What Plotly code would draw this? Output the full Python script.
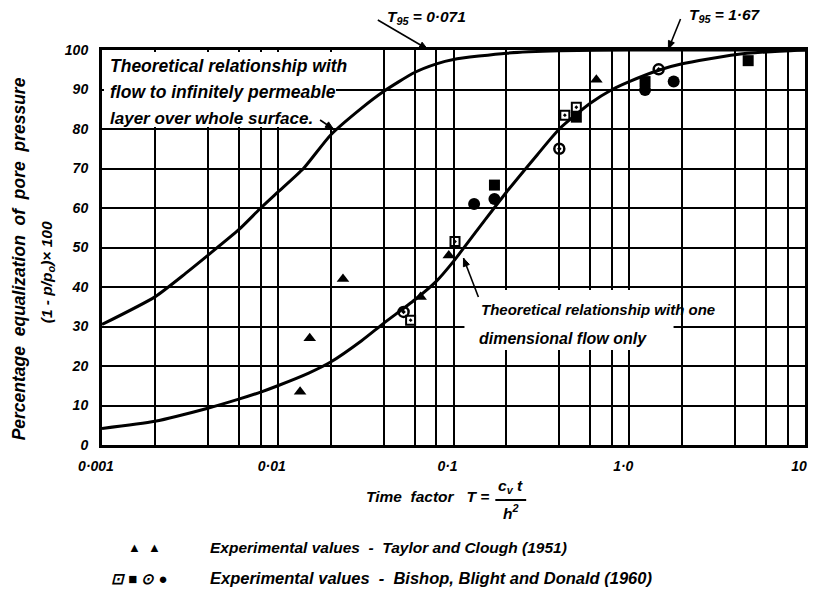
import math
import plotly.graph_objects as go

# ---------------- data ----------------
# Theoretical curve: flow to infinitely permeable layer over whole surface
T_perm = [0.001, 0.002, 0.003, 0.004, 0.006, 0.008, 0.01, 0.014, 0.02, 0.03,
          0.04, 0.06, 0.08, 0.1, 0.2, 0.4, 1.0, 10]
U_perm = [30.5, 37.5, 43.5, 48, 54.5, 60, 64, 70, 78.5, 85.3,
          89.5, 94.3, 96.5, 97.6, 99.2, 99.8, 100, 100]

# Theoretical curve: one dimensional flow only
T_1d = [0.001, 0.002, 0.004, 0.006, 0.008, 0.01, 0.015, 0.02, 0.03, 0.04,
        0.06, 0.08, 0.1, 0.15, 0.2, 0.3, 0.4, 0.6, 0.8, 1.0,
        1.5, 2.0, 4.0, 6.0, 10]
U_1d = [4.2, 6, 9.3, 11.6, 13.4, 15, 18.2, 21, 26.4, 30.8,
        36.7, 41.5, 46.5, 56.8, 64, 73.5, 80, 86.5, 90, 92,
        95, 96.5, 98.8, 99.5, 100]

# Experimental values - Taylor and Clough (1951)
T_taylor = [0.0134, 0.0152, 0.0235, 0.065, 0.094, 0.65]
U_taylor = [13.5, 27, 42, 37.5, 48, 92.5]

# Experimental values - Bishop, Blight and Donald (1960)
T_open_sq = [0.057, 0.102, 0.43, 0.50]
U_open_sq = [31.6, 51.5, 83.5, 85.5]
T_fill_sq = [0.171, 0.50, 1.23, 4.75]
U_fill_sq = [65.8, 83, 92, 97.3]
T_open_ci = [0.052, 0.40, 1.47]
U_open_ci = [33.7, 75, 95.1]
T_fill_ci = [0.131, 0.171, 1.23, 1.79]
U_fill_ci = [61, 62.3, 89.9, 92]

# axis ticks / grid
x_tickvals = [0.001, 0.01, 0.1, 1, 10]
x_ticktext = ["0·001", "0·01", "0·1", "1·0", "10"]
x_minor_vals = [0.002, 0.004, 0.006, 0.008,
                0.02, 0.04, 0.06, 0.08,
                0.2, 0.4, 0.6, 0.8,
                2, 4, 6, 8]
y_tickvals = [0, 10, 20, 30, 40, 50, 60, 70, 80, 90, 100]
y_ticktext = [str(v) for v in y_tickvals]

T95_perm = 0.071
T95_1d = 1.67

# ---------------- layout helpers ----------------
W, H = 815, 596
ML, MR, MT, MB = 102, 7, 50, 151
PW = W - ML - MR
PH = H - MT - MB
BOTTOM = H - MB


def px(x):
    return (x - ML) / PW


def py(y):
    return (BOTTOM - y) / PH


def tx(T):
    # pixel x of a time factor on the log axis (used only for callout arrows)
    return ML + PW * (math.log10(T) + 3) / 4


def uy(U):
    return BOTTOM - PH * U / 100


FONT = "Liberation Sans, Arial, sans-serif"


def fnt(size, weight="bold"):
    return dict(family=FONT, size=size, color="black", style="italic", weight=weight)


fig = go.Figure()

# white panels behind the in-plot captions (hide the grid there)
fig.add_shape(type="rect", xref="paper", yref="paper", x0=px(104), x1=px(337),
              y0=py(127), y1=py(52), fillcolor="white", line_width=0, layer="above")
fig.add_shape(type="rect", xref="paper", yref="paper", x0=px(466), x1=px(676),
              y0=py(350), y1=py(290), fillcolor="white", line_width=0, layer="above")


def arrow(x0, y0, x1, y1, head=8, half=3.2):
    """Leader line from (x0,y0) to (x1,y1) in pixels with a filled head."""
    fig.add_shape(type="line", xref="paper", yref="paper",
                  x0=px(x0), y0=py(y0), x1=px(x1), y1=py(y1),
                  line=dict(color="black", width=1.6), layer="above")
    d = math.hypot(x1 - x0, y1 - y0)
    ux, uy_ = (x1 - x0) / d, (y1 - y0) / d
    bx, by = x1 - ux * head, y1 - uy_ * head
    nx, ny = -uy_ * half, ux * half
    pts = [(x1, y1), (bx + nx, by + ny), (bx - nx, by - ny)]
    path = "M " + " L ".join(f"{px(a):.5f},{py(b):.5f}" for a, b in pts) + " Z"
    fig.add_shape(type="path", xref="paper", yref="paper", path=path,
                  fillcolor="black", line=dict(color="black", width=1), layer="above")


line_style = dict(color="black", width=3, shape="spline", smoothing=0.6)
fig.add_trace(go.Scatter(x=T_perm, y=U_perm, mode="lines", line=line_style,
                         showlegend=False, hoverinfo="skip"))
fig.add_trace(go.Scatter(x=T_1d, y=U_1d, mode="lines", line=line_style,
                         showlegend=False, hoverinfo="skip"))

fig.add_trace(go.Scatter(x=T_taylor, y=U_taylor, mode="markers", showlegend=False,
                         marker=dict(symbol="triangle-up", size=11, color="black")))
fig.add_trace(go.Scatter(x=T_open_sq, y=U_open_sq, mode="markers", showlegend=False,
                         marker=dict(symbol="square-open-dot", size=9, color="black",
                                     line=dict(width=2, color="black"))))
fig.add_trace(go.Scatter(x=T_fill_sq, y=U_fill_sq, mode="markers", showlegend=False,
                         marker=dict(symbol="square", size=11, color="black")))
fig.add_trace(go.Scatter(x=T_open_ci, y=U_open_ci, mode="markers", showlegend=False,
                         marker=dict(symbol="circle-open-dot", size=10, color="black",
                                     line=dict(width=2.5, color="black"))))
fig.add_trace(go.Scatter(x=T_fill_ci, y=U_fill_ci, mode="markers", showlegend=False,
                         marker=dict(symbol="circle", size=12, color="black")))

ann = []


def text_px(txt, x, y, size=15, xanchor="left", angle=0, weight="bold"):
    ann.append(dict(text=txt, xref="paper", yref="paper", x=px(x), y=py(y),
                    xanchor=xanchor, yanchor="middle", showarrow=False,
                    font=fnt(size, weight), textangle=angle))


# caption for the upper-left curve
text_px("Theoretical relationship with", 108, 66, size=17.5)
text_px("flow to infinitely permeable", 108, 92, size=17.5)
text_px("layer over whole surface.", 108, 118, size=17)
arrow(321, 120, tx(0.021) - 1, uy(80))

# caption for the one-dimensional curve
text_px("Theoretical relationship with one", 481, 309)
text_px("dimensional flow only", 479, 338, size=16)
arrow(480, 297, tx(0.114), uy(47.3))

# T95 callouts at the top
text_px("T<sub>95</sub> = 0·071", 386, 17, size=15.5)
arrow(379, 20, tx(T95_perm), uy(100) - 1)
text_px("T<sub>95</sub> = 1·67", 689, 16, size=15.5)
arrow(683, 19, tx(T95_1d), uy(100) - 1)

# y-axis title (two lines)
text_px("Percentage  equalization  of  pore  pressure", 19, 259, size=17.5,
        xanchor="center", angle=-90)
text_px("(1 - p/p<sub>o</sub>)× 100", 47, 272, size=15.5, xanchor="center", angle=-90)

# x-axis title with fraction
text_px("Time  factor   T =", 493, 496, size=15.5, xanchor="right")
text_px("c<sub>v</sub> t", 512, 487, size=15.5, xanchor="center")
text_px("h<sup>2</sup>", 513, 512, size=15.5, xanchor="center")
fig.add_shape(type="line", xref="paper", yref="paper", x0=px(497), x1=px(528),
              y0=py(500), y1=py(500), line=dict(color="black", width=2))

# key
text_px("▲  ▲", 145, 547, size=13, xanchor="center")
text_px("Experimental values  -  Taylor and Clough (1951)", 208, 547, size=15.5)
text_px("⊡ ■ ⊙ ●", 140, 578, size=15, xanchor="center")
text_px("Experimental values  -  Bishop, Blight and Donald (1960)", 208, 578, size=16.5)

axis_common = dict(showgrid=True, gridcolor="black", gridwidth=2,
                   showline=True, linecolor="black", linewidth=3, mirror=True,
                   ticks="", zeroline=False, tickfont=fnt(14))

fig.update_layout(
    width=W, height=H,
    margin=dict(l=ML, r=MR, t=MT, b=MB),
    paper_bgcolor="white", plot_bgcolor="white",
    xaxis=dict(type="log", range=[-3, 1], tickvals=x_tickvals, ticktext=x_ticktext,
               ticklabelstandoff=6, ticklabelshift=-6,
               minor=dict(tickvals=x_minor_vals, showgrid=True, gridcolor="black",
                          gridwidth=2, ticks=""),
               **axis_common),
    yaxis=dict(range=[0, 100], tickvals=y_tickvals, ticktext=y_ticktext,
               ticklabelstandoff=8, **axis_common),
    annotations=ann,
    showlegend=False,
)

fig.write_html("out.html")
